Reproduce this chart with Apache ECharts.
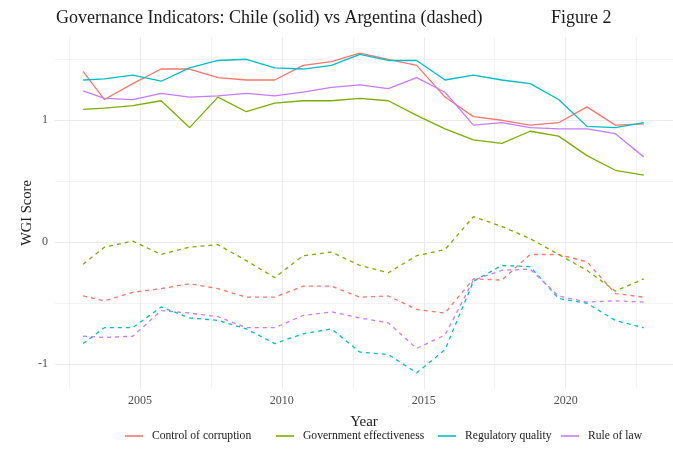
<!DOCTYPE html>
<html>
<head>
<meta charset="utf-8">
<script src="https://cdn.jsdelivr.net/npm/echarts@6/dist/echarts.min.js"></script>
<style>
  html, body { margin: 0; padding: 0; background: #ffffff; }
  #chart { width: 673px; height: 463px; }
</style>
</head>
<body>
<div id="chart"></div>
<script>
// Observation positions along the year axis
const years = [2003, 2003.75, 2004.75, 2005.75, 2006.75, 2007.75, 2008.75, 2009.75, 2010.75,
  2011.75, 2012.75, 2013.75, 2014.75, 2015.75, 2016.75, 2017.75, 2018.75, 2019.75, 2020.75,
  2021.75, 2022.75];

const indicators = ['Control of corruption', 'Government effectiveness', 'Regulatory quality', 'Rule of law'];
const colors = ['#F8766D', '#7CAE00', '#00BFC4', '#C77CFF'];

// Chile
const chileCorruption = [1.40, 1.17, 1.30, 1.42, 1.42, 1.35, 1.33, 1.33, 1.45, 1.48, 1.55,
  1.50, 1.45, 1.19, 1.03, 1.00, 0.96, 0.98, 1.11, 0.96, 0.97];
const chileEffectiveness = [1.09, 1.10, 1.12, 1.16, 0.94, 1.19, 1.07, 1.14, 1.16, 1.16, 1.18,
  1.16, 1.04, 0.93, 0.84, 0.81, 0.91, 0.87, 0.71, 0.59, 0.55];
const chileRegulatory = [1.33, 1.34, 1.37, 1.32, 1.43, 1.49, 1.50, 1.43, 1.42, 1.45, 1.54,
  1.49, 1.49, 1.33, 1.37, 1.33, 1.30, 1.17, 0.95, 0.94, 0.98];
const chileRuleOfLaw = [1.24, 1.18, 1.17, 1.22, 1.19, 1.20, 1.22, 1.20, 1.23, 1.27, 1.29,
  1.26, 1.35, 1.23, 0.96, 0.98, 0.94, 0.93, 0.93, 0.89, 0.70];

// Argentina
const argCorruption = [-0.44, -0.48, -0.41, -0.38, -0.34, -0.38, -0.45, -0.45, -0.36, -0.36, -0.45,
  -0.44, -0.55, -0.58, -0.30, -0.31, -0.10, -0.10, -0.16, -0.42, -0.45];
const argEffectiveness = [-0.18, -0.04, 0.01, -0.10, -0.04, -0.02, -0.15, -0.29, -0.11, -0.08, -0.19,
  -0.25, -0.11, -0.06, 0.21, 0.13, 0.03, -0.10, -0.23, -0.40, -0.30];
const argRegulatory = [-0.83, -0.70, -0.70, -0.53, -0.62, -0.64, -0.71, -0.83, -0.75, -0.71, -0.90,
  -0.92, -1.07, -0.88, -0.32, -0.19, -0.20, -0.46, -0.50, -0.64, -0.70];
const argRuleOfLaw = [-0.77, -0.78, -0.77, -0.56, -0.58, -0.61, -0.70, -0.70, -0.60, -0.57, -0.62,
  -0.66, -0.87, -0.76, -0.31, -0.23, -0.22, -0.44, -0.49, -0.48, -0.49];

// Axis breaks
const xMajorTicks = [2005, 2010, 2015, 2020];
const xMinorTicks = [2002.5, 2007.5, 2012.5, 2017.5, 2022.5];
const yMajorTicks = [-1, 0, 1];
const yMinorTicks = [-0.5, 0.5, 1.5];

const chileSeries = [chileCorruption, chileEffectiveness, chileRegulatory, chileRuleOfLaw];
const argSeries = [argCorruption, argEffectiveness, argRegulatory, argRuleOfLaw];

const FONT = 'Liberation Serif';
const gridColor = '#EBEBEB';

function pairs(vals) { return years.map((y, i) => [y, vals[i]]); }

const series = [];
indicators.forEach((name, k) => {
  series.push({
    name, type: 'line', data: pairs(chileSeries[k]), showSymbol: false, symbol: 'none',
    lineStyle: { color: colors[k], width: 1.3, type: 'solid' }, itemStyle: { color: colors[k] },
    z: 3, animation: false
  });
  series.push({
    name, type: 'line', data: pairs(argSeries[k]), showSymbol: false, symbol: 'none',
    lineStyle: { color: colors[k], width: 1.3, type: [4, 4] }, itemStyle: { color: colors[k] },
    z: 3, animation: false
  });
});

// One legend entry per indicator, laid out in a single row under the plot
const legendLefts = [125, 276, 438, 561];
const legends = indicators.map((name, k) => ({
  data: [name], left: legendLefts[k], top: 430, padding: 0,
  itemWidth: 18, itemHeight: 1.6, icon: 'rect',
  textStyle: { fontFamily: FONT, fontSize: 11.6, color: '#1a1a1a', padding: [0, 0, 0, 4] }
}));

const xBase = { type: 'value', min: 2002.01, max: 2023.78, gridIndex: 0,
  axisLine: { show: false } };
const yBase = { type: 'value', min: -1.2, max: 1.68, gridIndex: 0,
  axisLine: { show: false } };

const chart = echarts.init(document.getElementById('chart'), null, { renderer: 'canvas' });
chart.setOption({
  backgroundColor: '#ffffff',
  animation: false,
  title: [
    { text: 'Governance Indicators: Chile (solid) vs Argentina (dashed)', left: 56, top: 9, padding: 0,
      textStyle: { fontFamily: FONT, fontSize: 18, fontWeight: 'normal', color: '#1a1a1a' } },
    { text: 'Figure 2', left: 551, top: 9, padding: 0,
      textStyle: { fontFamily: FONT, fontSize: 18, fontWeight: 'normal', color: '#1a1a1a' } }
  ],
  grid: { left: 55, top: 37.3, width: 635.7, height: 351.4, containLabel: false },
  legend: legends,
  xAxis: [
    Object.assign({}, xBase, {
      name: 'Year', nameLocation: 'middle', nameGap: 26,
      nameTextStyle: { fontFamily: FONT, fontSize: 15, color: '#1a1a1a' },
      axisTick: { show: false, customValues: xMajorTicks },
      axisLabel: { customValues: xMajorTicks, formatter: (v) => String(v),
        fontFamily: FONT, fontSize: 12, color: '#4D4D4D', margin: 6 },
      splitLine: { show: true, lineStyle: { color: gridColor, width: 1.1 } }
    }),
    Object.assign({}, xBase, {
      axisTick: { show: false, customValues: xMinorTicks },
      axisLabel: { show: false },
      splitLine: { show: true, lineStyle: { color: gridColor, width: 0.6 } }
    })
  ],
  yAxis: [
    Object.assign({}, yBase, {
      name: 'WGI Score', nameLocation: 'middle', nameGap: 20, nameRotate: 90,
      nameMoveOverlap: false,
      nameTextStyle: { fontFamily: FONT, fontSize: 14.5, color: '#1a1a1a' },
      axisTick: { show: false, customValues: yMajorTicks },
      axisLabel: { customValues: yMajorTicks, fontFamily: FONT, fontSize: 12, color: '#4D4D4D', margin: 7 },
      splitLine: { show: true, lineStyle: { color: gridColor, width: 1.1 } }
    }),
    Object.assign({}, yBase, {
      position: 'left',
      axisTick: { show: false, customValues: yMinorTicks },
      axisLabel: { show: false },
      splitLine: { show: true, lineStyle: { color: gridColor, width: 0.6 } }
    })
  ],
  series
});
</script>
</body>
</html>
